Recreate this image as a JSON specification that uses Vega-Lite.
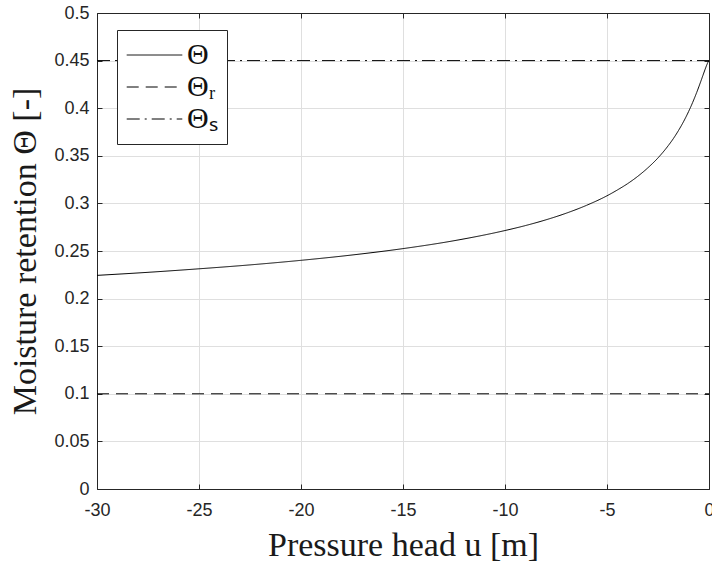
{
  "$schema": "https://vega.github.io/schema/vega-lite/v6.json",
  "width": 612,
  "height": 476,
  "autosize": {"type": "none"},
  "padding": {"left": 97, "top": 13, "right": 3, "bottom": 72},
  "background": "white",
  "config": {
    "view": {"stroke": null},
    "axis": {
      "domainColor": "#262626",
      "domainWidth": 1,
      "tickColor": "#262626",
      "tickSize": -5,
      "tickWidth": 1,
      "labelFont": "Liberation Sans",
      "labelFontSize": 18,
      "labelColor": "#262626",
      "gridColor": "#dfdfdf",
      "gridWidth": 1,
      "titleFont": "Liberation Serif",
      "titleFontSize": 34,
      "titleFontWeight": "normal",
      "titleColor": "#1a1a1a"
    },
    "legend": {
      "orient": "none",
      "legendX": 20,
      "legendY": 17,
      "symbolType": "stroke",
      "symbolSize": 3090,
      "symbolStrokeWidth": 1,
      "symbolStrokeColor": "black",
      "labelFont": "Liberation Serif",
      "labelFontSize": 30,
      "labelColor": "#111111",
      "labelOffset": 4,
      "padding": 9,
      "clipHeight": 32,
      "rowPadding": 0,
      "strokeColor": "#262626",
      "fillColor": "white"
    }
  },
  "data": {
    "values": [
      {"series": "theta", "u": -30, "theta": 0.2244},
      {"series": "theta", "u": -27.5, "theta": 0.2276},
      {"series": "theta", "u": -25, "theta": 0.2313},
      {"series": "theta", "u": -22.5, "theta": 0.2354},
      {"series": "theta", "u": -20, "theta": 0.2402},
      {"series": "theta", "u": -17.5, "theta": 0.2458},
      {"series": "theta", "u": -15, "theta": 0.2525},
      {"series": "theta", "u": -12.5, "theta": 0.2608},
      {"series": "theta", "u": -10, "theta": 0.2715},
      {"series": "theta", "u": -9, "theta": 0.2767},
      {"series": "theta", "u": -8, "theta": 0.2827},
      {"series": "theta", "u": -7, "theta": 0.2897},
      {"series": "theta", "u": -6, "theta": 0.298},
      {"series": "theta", "u": -5, "theta": 0.308},
      {"series": "theta", "u": -4.5, "theta": 0.314},
      {"series": "theta", "u": -4, "theta": 0.3206},
      {"series": "theta", "u": -3.5, "theta": 0.3283},
      {"series": "theta", "u": -3, "theta": 0.3373},
      {"series": "theta", "u": -2.5, "theta": 0.3478},
      {"series": "theta", "u": -2, "theta": 0.3606},
      {"series": "theta", "u": -1.75, "theta": 0.368},
      {"series": "theta", "u": -1.5, "theta": 0.3764},
      {"series": "theta", "u": -1.25, "theta": 0.3858},
      {"series": "theta", "u": -1, "theta": 0.3965},
      {"series": "theta", "u": -0.8, "theta": 0.4061},
      {"series": "theta", "u": -0.6, "theta": 0.4167},
      {"series": "theta", "u": -0.5, "theta": 0.4224},
      {"series": "theta", "u": -0.4, "theta": 0.4283},
      {"series": "theta", "u": -0.3, "theta": 0.4343},
      {"series": "theta", "u": -0.2, "theta": 0.4403},
      {"series": "theta", "u": -0.15, "theta": 0.4432},
      {"series": "theta", "u": -0.1, "theta": 0.4459},
      {"series": "theta", "u": -0.05, "theta": 0.4483},
      {"series": "theta", "u": 0, "theta": 0.45},
      {"series": "theta_r", "u": -30, "theta": 0.1},
      {"series": "theta_r", "u": 0, "theta": 0.1},
      {"series": "theta_s", "u": -30, "theta": 0.45},
      {"series": "theta_s", "u": 0, "theta": 0.45}
    ]
  },
  "layer": [
    {
      "mark": {"type": "line", "color": "black", "strokeWidth": 1, "interpolate": "monotone", "clip": true},
      "encoding": {
        "x": {
          "field": "u",
          "type": "quantitative",
          "scale": {"domain": [-30, 0], "nice": false, "zero": false},
          "axis": {
            "orient": "bottom",
            "values": [-30, -25, -20, -15, -10, -5, 0],
            "labelExpr": "replace(datum.label, '−', '-')",
            "labelPadding": 17,
            "labelFlush": false,
            "title": "Pressure head u [m]",
            "titlePadding": 9
          }
        },
        "y": {
          "field": "theta",
          "type": "quantitative",
          "scale": {"domain": [0, 0.5], "nice": false, "zero": false},
          "axis": {
            "orient": "left",
            "values": [0, 0.05, 0.1, 0.15, 0.2, 0.25, 0.3, 0.35, 0.4, 0.45, 0.5],
            "format": ".2~f",
            "labelPadding": 13,
            "labelFlush": false,
            "title": "Moisture retention Θ [-]",
            "titlePadding": 11
          }
        },
        "strokeDash": {
          "field": "series",
          "type": "nominal",
          "scale": {"domain": ["theta", "theta_r", "theta_s"], "range": [[1, 0], [12, 7], [13, 5, 2, 5]]},
          "legend": {
            "title": null,
            "labelExpr": "datum.label == 'theta' ? 'Θ' : (datum.label == 'theta_r' ? 'Θᵣ' : 'Θₛ')"
          }
        }
      }
    },
    {
      "mark": {"type": "line", "opacity": 0},
      "encoding": {
        "x": {
          "field": "u",
          "type": "quantitative",
          "axis": {
            "orient": "top",
            "values": [-30, -25, -20, -15, -10, -5, 0],
            "labels": false,
            "grid": false,
            "title": null
          }
        },
        "y": {
          "field": "theta",
          "type": "quantitative",
          "axis": {
            "orient": "right",
            "values": [0, 0.05, 0.1, 0.15, 0.2, 0.25, 0.3, 0.35, 0.4, 0.45, 0.5],
            "labels": false,
            "grid": false,
            "title": null
          }
        },
        "detail": {"field": "series"}
      }
    }
  ],
  "resolve": {"axis": {"x": "independent", "y": "independent"}}
}
